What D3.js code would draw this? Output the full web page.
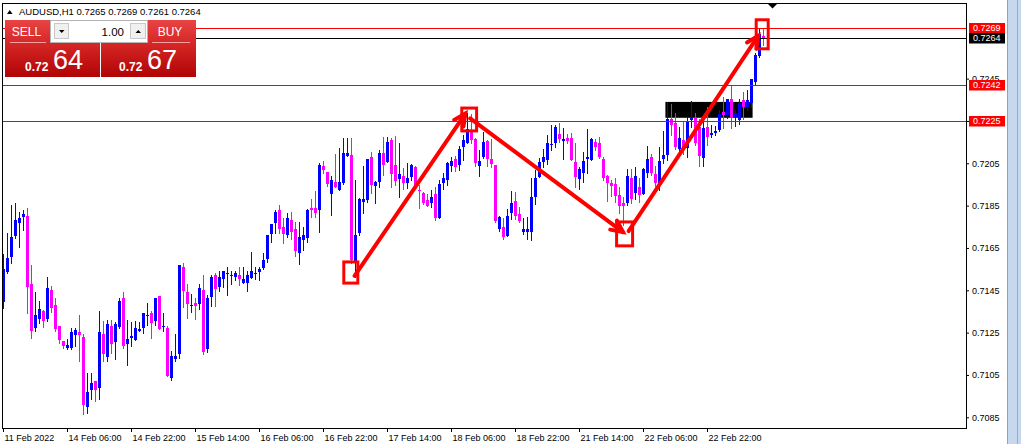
<!DOCTYPE html>
<html><head><meta charset="utf-8">
<script src="https://cdn.jsdelivr.net/npm/d3@7"></script>
<style>body{margin:0;background:#fff;}svg{display:block;}</style>
</head><body><svg id="c" width="1021" height="444"></svg>
<script>
const opens=[.71396,.71538,.71609,.71708,.71769,.71798,.71801,.71480,.71270,.71314,.71352,.71314,.71451,.71380,.71281,.71210,.71179,.71179,.71239,.71253,
.71229,.70900,.70979,.71021,.70990,.71243,.71136,.71283,.71207,.71278,.71412,.71196,.71226,.71215,.71259,.71270,.71330,.71343,.71307,.71423,
.71277,.71274,.71037,.71127,.71151,.71560,.71444,.71378,.71389,.71387,.71452,.71171,.71420,.71522,.71467,.71502,.71527,.71518,.71511,.71521,
.71486,.71486,.71510,.71527,.71538,.71554,.71597,.71716,.71770,.71830,.71749,.71712,.71783,.71740,.71628,.71688,.71699,.71841,.71839,.71830,
.72035,.72009,.71905,.71962,.71924,.71956,.72085,.72091,.71578,.71720,.71869,.71877,.72082,.71943,.71963,.72097,.72058,.72160,.72042,.71974,
.71990,.71958,.71984,.72031,.71924,.71908,.71877,.71861,.71905,.71790,.71958,.71971,.72037,.72069,.72040,.72129,.72147,.72199,.72163,.72037,
.72078,.72157,.72069,.72040,.71738,.71751,.71707,.71817,.71874,.71811,.71727,.71727,.71727,.71893,.71987,.72058,.72066,.72138,.72145,.72189,
.72157,.72170,.72170,.72058,.71974,.72003,.72069,.72066,.72152,.72148,.72069,.71990,.71956,.71952,.71900,.71861,.71861,.71979,.71911,.71936,
.71905,.72002,.72081,.71999,.71958,.72068,.72087,.72257,.72239,.72116,.72160,.72120,.72254,.72262,.72223,.72076,.72223,.72183,.72194,.72207,
.72294,.72278,.72352,.72267,.72254,.72349,.72317,.72333,.72435,.72557,.7265];
const highs=[.71620,.71719,.71853,.71861,.71821,.71829,.71837,.71569,.71440,.71399,.71357,.71513,.71470,.71415,.71281,.71210,.71220,.71273,.71273,.71333,
.71242,.71057,.71057,.71023,.71352,.71305,.71308,.71308,.71300,.71412,.71440,.71308,.71302,.71305,.71300,.71344,.71390,.71352,.71414,.71423,
.71343,.71283,.71163,.71244,.71570,.71579,.71480,.71433,.71414,.71480,.71522,.71430,.71522,.71532,.71541,.71541,.71559,.71541,.71541,.71559,
.71559,.71541,.71631,.71562,.71562,.71625,.71712,.71764,.71830,.71853,.71790,.71814,.71822,.71775,.71773,.71751,.71833,.71882,.71920,.72053,
.72061,.72011,.71990,.72094,.72121,.72168,.72168,.72168,.71972,.71885,.72035,.72069,.72105,.71964,.72113,.72173,.72176,.72168,.72179,.72147,
.72026,.72053,.72045,.72037,.71947,.71916,.71905,.71924,.71940,.71971,.72003,.72058,.72078,.72084,.72132,.72182,.72289,.72283,.72168,.72113,
.72199,.72160,.72163,.72042,.71801,.71790,.71836,.71921,.71916,.71845,.71790,.71795,.71979,.72019,.72074,.72116,.72184,.72231,.72231,.72239,
.72215,.72189,.72195,.72145,.72034,.72105,.72211,.72168,.72163,.72176,.72082,.71995,.71971,.71979,.71940,.71889,.72022,.72021,.72031,.71979,
.72026,.72131,.72094,.72037,.72128,.72204,.72339,.72329,.72289,.72223,.72246,.72270,.72346,.72286,.72257,.72262,.72317,.72231,.72226,.72302,
.72361,.72352,.72415,.72302,.72352,.72388,.72396,.72446,.72569,.72685,.7269];
const lows=[.71368,.71530,.71577,.71695,.71656,.71735,.71341,.71226,.71259,.71297,.71278,.71305,.71349,.71257,.71199,.71179,.71172,.71172,.71188,.71117,
.70865,.70869,.70936,.70928,.70936,.71117,.71117,.71152,.71125,.71273,.71176,.71097,.71189,.71215,.71256,.71250,.71286,.71226,.71288,.71269,
.71260,.71047,.71026,.71116,.71129,.71370,.71318,.71349,.71316,.71363,.71151,.71159,.71378,.71378,.71448,.71467,.71430,.71478,.71499,.71477,
.71486,.71448,.71510,.71504,.71499,.71549,.71586,.71680,.71720,.71723,.71672,.71701,.71691,.71612,.71575,.71641,.71680,.71798,.71798,.71727,
.72003,.71943,.71806,.71940,.71924,.71953,.72085,.71578,.71515,.71712,.71817,.71869,.71912,.71864,.71940,.71995,.72058,.71940,.71947,.71889,
.71927,.71932,.71971,.71927,.71837,.71858,.71848,.71845,.71782,.71790,.71927,.71947,.72015,.72015,.72018,.72066,.72147,.72144,.72037,.71990,
.72073,.72037,.72034,.71774,.71732,.71691,.71707,.71785,.71785,.71774,.71716,.71691,.71688,.71858,.71987,.72034,.72045,.72113,.72129,.72152,
.72069,.72148,.72066,.71940,.71927,.71963,.72003,.72066,.72113,.72074,.71971,.71874,.71896,.71869,.71814,.71759,.71853,.71864,.71880,.71868,
.71905,.71987,.71994,.71943,.71924,.72050,.72065,.72183,.72116,.72105,.72094,.72078,.72223,.72136,.72037,.72037,.72136,.72176,.72183,.72204,
.72219,.72262,.72219,.72226,.72235,.72257,.72302,.72314,.72424,.72550,.7261];
const closes=[.71550,.71604,.71702,.71782,.71793,.71810,.71467,.71259,.71333,.71361,.71306,.71461,.71368,.71267,.71215,.71188,.71191,.71254,.71262,.71239,
.70908,.70968,.71010,.70979,.71254,.71149,.71291,.71196,.71289,.71399,.71187,.71220,.71234,.71274,.71266,.71343,.71335,.71297,.71414,.71269,
.71283,.71047,.71140,.71140,.71570,.71448,.71387,.71381,.71378,.71461,.71160,.71414,.71511,.71458,.71511,.71541,.71530,.71522,.71532,.71502,
.71502,.71521,.71541,.71534,.71551,.71594,.71712,.71764,.71820,.71738,.71716,.71790,.71727,.71638,.71704,.71712,.71830,.71827,.71817,.72042,
.72019,.71951,.71972,.71940,.71962,.72098,.72101,.71594,.71712,.71880,.71882,.72069,.71948,.71962,.72100,.72040,.72152,.71999,.71968,.71999,
.71958,.71979,.72042,.71936,.71921,.71861,.71848,.71890,.71790,.71952,.71979,.72050,.72059,.72034,.72119,.72160,.72210,.72160,.72050,.72059,
.72151,.72069,.72047,.71779,.71795,.71700,.71801,.71861,.71801,.71779,.71738,.71738,.71889,.71979,.72058,.72082,.72148,.72141,.72223,.72163,
.72163,.72157,.72066,.71987,.72022,.72063,.72082,.72163,.72129,.72082,.71979,.71959,.71943,.71896,.71848,.71848,.71990,.71880,.71990,.71900,
.72021,.72068,.72005,.71955,.72062,.72089,.72257,.72231,.72125,.72168,.72120,.72251,.72267,.72144,.72084,.72215,.72176,.72191,.72204,.72283,
.72278,.72352,.72262,.72289,.72336,.72317,.72349,.72446,.72561,.72660,.7264];

const symbol="AUDUSD,H1";
const tickIndex=[0,16,32,48,64,80,96,112,128,144,160,176];
const tickLabels=["11 Feb 2022","14 Feb 06:00","14 Feb 22:00","15 Feb 14:00","16 Feb 06:00","16 Feb 22:00","17 Feb 14:00","18 Feb 06:00","18 Feb 22:00","21 Feb 14:00","22 Feb 06:00","22 Feb 22:00"];
const priceTicks=[0.7085,0.7105,0.7125,0.7145,0.7165,0.7185,0.7205,0.7225,0.7245];
const redLevels=[0.7269,0.7242,0.7225];
const bidLevel=0.7264;
const sellPrice="0.7264", buyPrice="0.7267", lotSize="1.00";
const zoneBox={i0:165.6,i1:187.4,p0:0.72340,p1:0.72265};
const markerBoxes=[{i0:85.2,i1:88.7,p0:0.71584,p1:0.71484},{i0:114.7,i1:118.4,p0:0.72311,p1:0.72203},{i0:153.4,i1:157.4,p0:0.71773,p1:0.71660},{i0:188.3,i1:191.3,p0:0.72728,p1:0.72591}];
const arrows=[{i0:87.9,p0:0.71518,i1:115.6,p1:0.72285},{i0:116.8,p0:0.72262,i1:155.0,p1:0.71725},{i0:156.4,p0:0.71730,i1:188.8,p1:0.72652}];

const N=opens.length;
const svg=d3.select("#c");
const L=2.5,T=3.5,R=966.5,B=428.5;
const x=d3.scaleLinear().domain([0,190]).range([3,763]);
const y=d3.scaleLinear().domain([0.7085,0.7285]).range([417.3,-6.04]);

svg.append("rect").attr("width",1021).attr("height",444).attr("fill","#fff");
svg.append("defs").append("clipPath").attr("id","plot").append("rect").attr("x",L).attr("y",T).attr("width",R-L).attr("height",B-T);
const defs=svg.select("defs");
const g1=defs.append("linearGradient").attr("id","btn").attr("x1",0).attr("y1",0).attr("x2",0).attr("y2",1);
g1.append("stop").attr("offset","0%").attr("stop-color","#e84444");
g1.append("stop").attr("offset","45%").attr("stop-color","#d42424");
g1.append("stop").attr("offset","100%").attr("stop-color","#b00404");

const plot=svg.append("g").attr("clip-path","url(#plot)");
plot.append("rect").attr("x",x(zoneBox.i0)).attr("y",y(zoneBox.p0))
  .attr("width",x(zoneBox.i1)-x(zoneBox.i0)).attr("height",y(zoneBox.p1)-y(zoneBox.p0)).attr("fill","#000");

const data=d3.range(N).map(i=>({i,o:opens[i],h:highs[i],l:lows[i],c:closes[i]}));
const cg=plot.append("g");
const col=d=>d.c>=d.o?"#0000ff":"#ff00ff";
cg.selectAll("line.w").data(data).join("line").attr("class","w")
  .attr("x1",d=>x(d.i)+0.5).attr("x2",d=>x(d.i)+0.5)
  .attr("y1",d=>Math.round(y(d.h))).attr("y2",d=>Math.round(y(d.l))+1)
  .attr("stroke",col).attr("stroke-width",1);
cg.selectAll("rect.b").data(data).join("rect").attr("class","b")
  .attr("x",d=>x(d.i)-1).attr("width",3)
  .attr("y",d=>Math.round(y(Math.max(d.o,d.c))))
  .attr("height",d=>Math.max(1,Math.round(y(Math.min(d.o,d.c)))-Math.round(y(Math.max(d.o,d.c)))))
  .attr("fill",col);

plot.selectAll("line.lvl").data(redLevels).join("line").attr("class","lvl")
  .attr("x1",L).attr("x2",R).attr("y1",d=>Math.round(y(d))+0.5).attr("y2",d=>Math.round(y(d))+0.5)
  .attr("stroke","#ff0000").attr("stroke-width",1);
plot.append("line").attr("x1",L).attr("x2",R).attr("y1",Math.round(y(bidLevel))+0.5).attr("y2",Math.round(y(bidLevel))+0.5)
  .attr("stroke","#000").attr("stroke-width",1);

plot.selectAll("rect.mb").data(markerBoxes).join("rect").attr("class","mb")
  .attr("x",d=>x(d.i0)).attr("y",d=>y(d.p0)).attr("width",d=>x(d.i1)-x(d.i0)).attr("height",d=>y(d.p1)-y(d.p0))
  .attr("fill","none").attr("stroke","#ff0000").attr("stroke-width",3);
arrows.forEach(a=>{
  const x0=x(a.i0),y0=y(a.p0),x1=x(a.i1),y1=y(a.p1);
  const ang=Math.atan2(y1-y0,x1-x0), len=13, sp=0.45;
  plot.append("line").attr("x1",x0).attr("y1",y0).attr("x2",x1).attr("y2",y1)
    .attr("stroke","#ff0000").attr("stroke-width",4).attr("stroke-linecap","round");
  const p=d3.path();
  p.moveTo(x1-len*Math.cos(ang-sp),y1-len*Math.sin(ang-sp));
  p.lineTo(x1,y1);
  p.lineTo(x1-len*Math.cos(ang+sp),y1-len*Math.sin(ang+sp));
  plot.append("path").attr("d",p.toString()).attr("fill","none").attr("stroke","#ff0000").attr("stroke-width",4)
    .attr("stroke-linejoin","miter").attr("stroke-linecap","round");
});

svg.append("rect").attr("x",L).attr("y",T).attr("width",R-L).attr("height",B-T).attr("fill","none").attr("stroke","#000").attr("stroke-width",1);
svg.append("path").attr("d","M768,4L777,4L772.5,8.5Z").attr("fill","#000");

const xa=svg.append("g").attr("transform",`translate(0,${B-0.5})`)
  .call(d3.axisBottom(x).tickValues(tickIndex).tickFormat((d,i)=>tickLabels[i]).tickSize(4).tickSizeOuter(0));
xa.select(".domain").remove();
xa.selectAll("line").attr("stroke","#000");
xa.selectAll("text").attr("text-anchor","start").attr("x",1).attr("y",7).attr("dy","0.71em")
  .attr("font-family","Liberation Sans, Arial, sans-serif").attr("font-size","9px").attr("fill","#000");

const ya=svg.append("g").attr("transform",`translate(${R-0.5},0)`)
  .call(d3.axisRight(y).tickValues(priceTicks).tickFormat(d3.format(".4f")).tickSize(3).tickSizeOuter(0));
ya.select(".domain").remove();
ya.selectAll("line").attr("stroke","#000");
ya.selectAll("text").attr("x",6).attr("font-family","Liberation Sans, Arial, sans-serif").attr("font-size","9px").attr("fill","#000");

const plabels=[...redLevels.map(p=>({p,bg:"#ff0000",fg:"#fff"})),{p:bidLevel,bg:"#000",fg:"#fff"}];
const pl=svg.append("g").selectAll("g").data(plabels).join("g").attr("transform",d=>`translate(969,${Math.round(y(d.p))})`);
pl.append("rect").attr("x",0).attr("y",-5).attr("width",36).attr("height",10.5).attr("fill",d=>d.bg);
pl.append("text").attr("x",4).attr("y",0).attr("dy","0.36em").text(d=>d3.format(".4f")(d.p))
  .attr("font-family","Liberation Sans, Arial, sans-serif").attr("font-size","9px").attr("fill",d=>d.fg);

svg.append("path").attr("d","M7,14L12.5,14L9.75,10Z").attr("fill","#000");
const last=N-1;
svg.append("text").attr("x",19).attr("y",15).text(`${symbol} ${opens[last].toFixed(4)} ${highs[last].toFixed(4)} ${lows[last].toFixed(4)} ${closes[last].toFixed(4)}`)
  .attr("font-family","Liberation Sans, Arial, sans-serif").attr("font-size","9.5px").attr("fill","#000");

const tp=svg.append("g");
tp.append("rect").attr("x",5).attr("y",20).attr("width",95).attr("height",57).attr("fill","url(#btn)");
tp.append("rect").attr("x",101).attr("y",20).attr("width",95).attr("height",57).attr("fill","url(#btn)");
tp.append("line").attr("x1",10).attr("x2",46).attr("y1",42.5).attr("y2",42.5).attr("stroke","#f3a0a0");
tp.append("line").attr("x1",152).attr("x2",190).attr("y1",42.5).attr("y2",42.5).attr("stroke","#f3a0a0");
tp.append("rect").attr("x",50.5).attr("y",20.5).attr("width",97).attr("height",22).attr("fill","#fff").attr("stroke","#b4b4b4");
tp.append("rect").attr("x",54.5).attr("y",23.5).attr("width",14).attr("height",15).attr("fill","#f0f0f0").attr("stroke","#c8c8c8");
tp.append("rect").attr("x",130.5).attr("y",23.5).attr("width",15).attr("height",15).attr("fill","#f0f0f0").attr("stroke","#c8c8c8");
tp.append("path").attr("d","M59,30L64.5,30L61.75,33Z").attr("fill","#000");
tp.append("path").attr("d","M135.5,33L141,33L138.25,30Z").attr("fill","#000");
const ff="Liberation Sans, Arial, sans-serif";
tp.append("text").attr("x",26.5).attr("y",36).attr("text-anchor","middle").text("SELL").attr("font-family",ff).attr("font-size","12px").attr("fill","#fff");
tp.append("text").attr("x",170).attr("y",36).attr("text-anchor","middle").text("BUY").attr("font-family",ff).attr("font-size","12px").attr("fill","#fff");
tp.append("text").attr("x",124).attr("y",36).attr("text-anchor","end").text(lotSize).attr("font-family",ff).attr("font-size","11.5px").attr("fill","#000");
function bigPrice(xs,str){
  tp.append("text").attr("x",xs).attr("y",71).text(str.slice(0,4)).attr("font-family",ff).attr("font-weight","bold").attr("font-size","12px").attr("fill","#fff");
  tp.append("text").attr("x",xs+28).attr("y",69).text(str.slice(4)).attr("font-family",ff).attr("font-size","27px").attr("fill","#fff");
}
bigPrice(25,sellPrice);
bigPrice(119,buyPrice);

svg.append("rect").attr("x",1008).attr("y",0).attr("width",13).attr("height",444).attr("fill","#c6d8ee");
svg.append("line").attr("x1",1007.5).attr("x2",1007.5).attr("y1",0).attr("y2",444).attr("stroke","#a0a0a0");
svg.append("line").attr("x1",1017.5).attr("x2",1017.5).attr("y1",0).attr("y2",444).attr("stroke","#98aac4");
</script></body></html>
